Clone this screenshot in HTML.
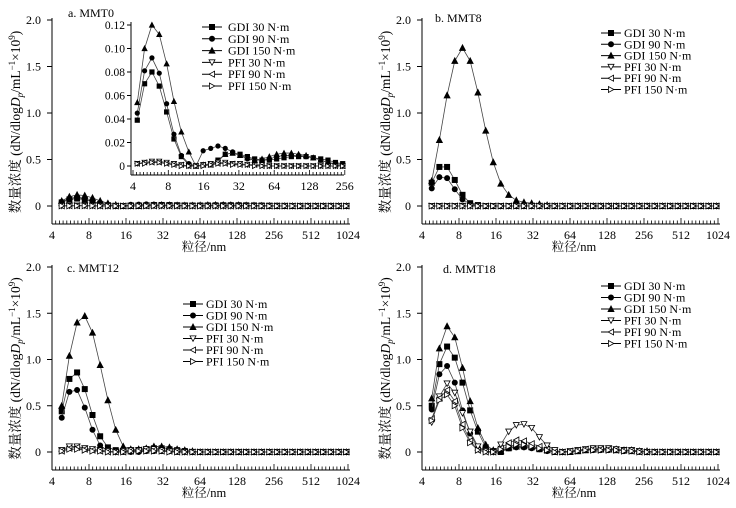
<!DOCTYPE html>
<html><head><meta charset="utf-8">
<style>
html,body{margin:0;padding:0;background:#fff;}
svg{display:block;font-family:"Liberation Serif","Noto Serif CJK SC",serif;}
</style></head>
<body>
<svg id="chart" width="736" height="508" viewBox="0 0 736 508" xmlns="http://www.w3.org/2000/svg"></svg>
<script>
const diameters=[4.8,5.54,6.4,7.39,8.54,9.86,11.4,13.2,15.2,17.5,20.3,23.4,27.0,31.2,36.1,41.7,48.1,55.6,64.2,74.1,85.6,98.9,114,132,152,176,203,235,271,313,362,418,483,558,644,744,859,992];
const seriesNames=["GDI 30 N·m","GDI 90 N·m","GDI 150 N·m","PFI 30 N·m","PFI 90 N·m","PFI 150 N·m"];
const xTickLabels=[4,8,16,32,64,128,256,512,1024];
const yTickLabels=[0,0.5,1.0,1.5,2.0];
const insetXTickLabels=[4,8,16,32,64,128,256];
const insetYTickLabels=[0,0.02,0.04,0.06,0.08,0.10,0.12];
// Panel a (MMT0)
const aGDI30=[.039,.07,.08,.068,.046,.023,.008,.001,0,.001,.001,.005,.01,.011,.01,.008,.006,.005,.005,.006,.007,.008,.008,.008,.007,.006,.005,.003,.002,.001,0,0,0,0,0,0,0,0];
const aGDI90=[.045,.081,.092,.079,.053,.027,.009,.002,0,.013,.015,.017,.015,.012,.009,.006,.005,.005,.006,.008,.009,.009,.009,.008,.007,.005,.003,.002,.001,0,0,0,0,0,0,0,0,0];
const aGDI150=[.054,.1,.12,.112,.087,.055,.029,.012,0,.001,.001,.004,.01,.011,.009,.007,.005,.006,.008,.01,.011,.011,.01,.009,.007,.005,.003,.001,0,0,0,0,0,0,0,0,0,0];
const aPFI30=[.002,.003,.004,.004,.003,.002,.001,0,0,.001,.002,.003,.003,.002,.002,.001,.001,.001,0,0,0,0,0,0,0,0,0,0,0,0,0,0,0,0,0,0,0,0];
const aPFI90=[.002,.003,.003,.003,.002,.001,.001,0,0,.001,.001,.002,.002,.002,.001,.001,.001,0,0,0,0,0,0,0,0,0,0,0,0,0,0,0,0,0,0,0,0,0];
const aPFI150=[.002,.002,.003,.003,.002,.001,0,0,0,0,.001,.002,.002,.001,.001,.001,0,0,0,0,0,0,0,0,0,0,0,0,0,0,0,0,0,0,0,0,0,0];
// Panel b (MMT8)
const bGDI30=[.25,.42,.42,.28,.12,.03,.01,0,0,0,0,0,0,0,0,0,0,0,0,0,0,0,0,0,0,0,0,0,0,0,0,0,0,0,0,0,0,0];
const bGDI90=[.19,.31,.30,.18,.07,.02,0,0,0,0,0,0,0,0,0,0,0,0,0,0,0,0,0,0,0,0,0,0,0,0,0,0,0,0,0,0,0,0];
const bGDI150=[.27,.71,1.19,1.56,1.70,1.56,1.22,.81,.47,.24,.12,.06,.04,.03,.02,.01,0,0,0,0,0,0,0,0,0,0,0,0,0,0,0,0,0,0,0,0,0,0];
const bPFI30=[0,0,0,0,0,0,0,0,0,0,0,0,0,0,0,0,0,0,0,0,0,0,0,0,0,0,0,0,0,0,0,0,0,0,0,0,0,0];
const bPFI90=[0,0,0,0,0,0,0,0,0,0,0,0,0,0,0,0,0,0,0,0,0,0,0,0,0,0,0,0,0,0,0,0,0,0,0,0,0,0];
const bPFI150=[0,0,0,0,0,0,0,0,0,0,0,0,0,0,0,0,0,0,0,0,0,0,0,0,0,0,0,0,0,0,0,0,0,0,0,0,0,0];
// Panel c (MMT12)
const cGDI30=[.44,.79,.86,.68,.40,.17,.05,.02,.01,.01,.02,.03,.04,.04,.03,.02,.01,0,0,0,0,0,0,0,0,0,0,0,0,0,0,0,0,0,0,0,0,0];
const cGDI90=[.37,.65,.67,.48,.24,.07,.01,0,0,0,0,.01,.01,.01,.01,0,0,0,0,0,0,0,0,0,0,0,0,0,0,0,0,0,0,0,0,0,0,0];
const cGDI150=[.50,1.04,1.40,1.47,1.29,.94,.56,.24,.06,.03,.03,.04,.06,.06,.05,.03,.02,.01,0,0,0,0,0,0,0,0,0,0,0,0,0,0,0,0,0,0,0,0];
const cPFI30=[.02,.06,.06,.04,.03,.02,.01,0,.01,.02,.02,.03,.03,.02,.01,.01,0,0,0,0,0,0,0,0,0,0,0,0,0,0,0,0,0,0,0,0,0,0];
const cPFI90=[.01,.04,.05,.03,.02,.01,0,0,0,.01,.02,.02,.02,.01,.01,0,0,0,0,0,0,0,0,0,0,0,0,0,0,0,0,0,0,0,0,0,0,0];
const cPFI150=[.01,.03,.03,.02,.01,.01,0,0,0,.01,.01,.01,.01,.01,0,0,0,0,0,0,0,0,0,0,0,0,0,0,0,0,0,0,0,0,0,0,0,0];
// Panel d (MMT18)
const dGDI30=[.50,.95,1.14,1.02,.75,.45,.22,.05,.01,0,.04,.06,.06,.05,.03,.02,0,0,0,.01,.02,.03,.03,.03,.02,.02,.01,.01,0,0,0,0,0,0,0,0,0,0];
const dGDI90=[.46,.84,.93,.75,.45,.20,.04,.01,0,0,.04,.05,.05,.04,.03,.01,0,0,0,.01,.02,.02,.02,.02,.02,.01,.01,0,0,0,0,0,0,0,0,0,0,0];
const dGDI150=[.58,1.12,1.36,1.24,.91,.55,.26,.08,.02,.01,.05,.06,.07,.06,.04,.02,.01,0,0,.01,.02,.03,.03,.03,.03,.02,.02,.01,.01,0,0,0,0,0,0,0,0,0];
const dPFI30=[.32,.60,.74,.64,.42,.22,.06,.01,0,.08,.22,.29,.30,.26,.16,.07,.02,0,.01,.02,.03,.04,.04,.04,.03,.02,.02,.01,0,0,0,0,0,0,0,0,0,0];
const dPFI90=[.36,.58,.67,.55,.30,.12,.02,0,0,.04,.10,.13,.12,.09,.06,.03,0,0,.01,.02,.03,.03,.03,.03,.02,.02,.01,0,0,0,0,0,0,0,0,0,0,0];
const dPFI150=[.34,.56,.62,.50,.26,.10,.02,0,0,.03,.06,.08,.08,.06,.04,.02,0,0,0,.01,.02,.02,.02,.02,.02,.01,.01,0,0,0,0,0,0,0,0,0,0,0];

const NS="http://www.w3.org/2000/svg";
const svg=document.getElementById('chart');
function el(tag,attrs,parent){const e=document.createElementNS(NS,tag);for(const k in attrs)e.setAttribute(k,attrs[k]);(parent||svg).appendChild(e);return e;}
const markerKinds=["square","circle","triangle","tri-down","tri-left","tri-right"];
function marker(g,kind,x,y,s){
  let e;const fillC=(kind==="square"||kind==="circle"||kind==="triangle")?"#000":"#fff";
  const st={fill:fillC,stroke:"#000","stroke-width":0.8};
  if(kind==="square"){e=el('rect',Object.assign({x:x-s,y:y-s,width:2*s,height:2*s},st),g);}
  else if(kind==="circle"){e=el('circle',Object.assign({cx:x,cy:y,r:s},st),g);}
  else{let p;
    if(kind==="triangle")p=[[x,y-s*1.2],[x-s*1.15,y+s],[x+s*1.15,y+s]];
    else if(kind==="tri-down")p=[[x,y+s*1.1],[x-s*1.15,y-s],[x+s*1.15,y-s]];
    else if(kind==="tri-left")p=[[x-s*1.1,y],[x+s,y-s*1.15],[x+s,y+s*1.15]];
    else p=[[x+s*1.1,y],[x-s,y-s*1.15],[x-s,y+s*1.15]];
    e=el('polygon',Object.assign({points:p.map(q=>q.join(',')).join(' ')},st),g);}
  
  
  return e;
}
function drawSeries(g,xf,yf,vals,kind,name,s){
  const sg=el('g',{},g);
  
  
  const pts=vals.map((v,i)=>[xf(diameters[i]),yf(v)]).filter(p=>isFinite(p[0]));
  const pl=el('polyline',{points:pts.map(p=>p.join(',')).join(' '),fill:"none",stroke:"#444","stroke-width":0.8},sg);
  
  
  pts.forEach(p=>marker(sg,kind,p[0],p[1],s));
}
function panel(cfg){
  const g=el('g',{});
  
  
  const ax=cfg.ax,ppo=37;
  const xf=d=>ax+ppo*Math.log2(d/4);
  const yf=v=>cfg.y0-(cfg.y0-cfg.y2)*v/2;
  const ya=el('line',{x1:ax,y1:cfg.y2-2,x2:ax,y2:cfg.bot,stroke:"#000","stroke-width":1},g);
  
  yTickLabels.forEach(v=>{const y=yf(v);
    el('line',{x1:ax-5,y1:y,x2:ax,y2:y,stroke:"#000","stroke-width":1},g);
    const t=el('text',{x:ax-11,y:y+4,"text-anchor":"end","font-size":12},g);
    t.textContent=v===0?"0":v.toFixed(1);
    });
  const xa=el('line',{x1:ax,y1:cfg.bot,x2:xf(1024)+2,y2:cfg.bot,stroke:"#000","stroke-width":1},g);
  
  for(let i=0;i<=80;i++){const x=ax+i*ppo/10; if(x>xf(1024)+1)break;
    el('line',{x1:x,y1:cfg.bot,x2:x,y2:cfg.bot-(i%10===0?6:3.5),stroke:"#000","stroke-width":0.8},g);}
  xTickLabels.forEach(v=>{const t=el('text',{x:xf(v),y:cfg.bot+15,"text-anchor":"middle","font-size":12},g);
    t.textContent=v;});
  const xt=el('text',{x:ax+152,y:cfg.bot+27,"text-anchor":"middle","font-size":12.5},g);
  xt.textContent="粒径/nm";
  const cy=(cfg.y2+cfg.bot)/2, tx=ax-32;
  const yt=el('text',{x:tx,y:cy,"text-anchor":"middle","font-size":13.5,transform:`rotate(-90 ${tx} ${cy})`},g);
  yt.innerHTML='数量浓度 (dN/dlog<tspan font-style="italic">D</tspan><tspan font-size="9" dy="3" font-style="italic">p</tspan><tspan dy="-3">/mL</tspan><tspan font-size="9" dy="-5">−1</tspan><tspan dy="5">×10</tspan><tspan font-size="9" dy="-5">9</tspan><tspan dy="5">)</tspan>';
  
  const tt=el('text',{x:cfg.tx,y:cfg.ty,"font-size":12},g);
  tt.textContent=cfg.title;
  cfg.series.forEach((vals,i)=>drawSeries(g,xf,yf,vals,markerKinds[i],'series-'+seriesNames[i].replace(/[^A-Za-z0-9]+/g,'-').toLowerCase(),2.6));
  const lg=el('g',{},g);
  
  seriesNames.forEach((n,i)=>{const y=cfg.ly+i*cfg.lsp;
    const eg=el('g',{},lg);
    
    el('line',{x1:cfg.lx-10,y1:y,x2:cfg.lx+10,y2:y,stroke:"#000","stroke-width":1},eg);
    marker(eg,markerKinds[i],cfg.lx,y,2.6);
    const t=el('text',{x:cfg.lx+13,y:y+4,"font-size":12},eg);t.textContent=n;});
  return {g,xf,yf};
}
panel({name:'panel-a-mmt0',ax:52,y0:206,y2:20,bot:224,title:'a. MMT0',tx:68,ty:17,
  series:[aGDI30,aGDI90,aGDI150,aPFI30,aPFI90,aPFI150],lx:212,ly:27,lsp:11.8});
panel({name:'panel-b-mmt8',ax:422,y0:206,y2:20,bot:224,title:'b. MMT8',tx:435,ty:22,
  series:[bGDI30,bGDI90,bGDI150,bPFI30,bPFI90,bPFI150],lx:611,ly:33,lsp:11.3});
panel({name:'panel-c-mmt12',ax:52,y0:452,y2:267,bot:470,title:'c. MMT12',tx:67,ty:272,
  series:[cGDI30,cGDI90,cGDI150,cPFI30,cPFI90,cPFI150],lx:193,ly:304,lsp:11.5});
panel({name:'panel-d-mmt18',ax:422,y0:452,y2:267,bot:470,title:'d. MMT18',tx:443,ty:273,
  series:[dGDI30,dGDI90,dGDI150,dPFI30,dPFI90,dPFI150],lx:611,ly:286,lsp:11.5});
(function(){
  const g=el('g',{});
  
  
  const ix=131,bot=175,y0=166,yTop=25,ppo=35.3;
  const xf=d=>ix+2+ppo*Math.log2(d/4)-5;
  const yf=v=>y0-(y0-yTop)*v/0.12;
  el('rect',{x:ix,y:20,width:215,height:bot-20,fill:"#fff"},g);
  const ya=el('line',{x1:ix,y1:22,x2:ix,y2:bot,stroke:"#000","stroke-width":1},g);
  
  insetYTickLabels.forEach(v=>{const y=yf(v);
    el('line',{x1:ix-4,y1:y,x2:ix,y2:y,stroke:"#000","stroke-width":1},g);
    const t=el('text',{x:ix-6,y:y+4,"text-anchor":"end","font-size":11.5},g);
    t.textContent=v===0?"0":v.toFixed(2);
    });
  const xa=el('line',{x1:ix,y1:bot,x2:ix+213,y2:bot,stroke:"#000","stroke-width":1},g);
  
  for(let i=0;i<=60;i++){const x=ix+2+i*ppo/10;
    el('line',{x1:x,y1:bot,x2:x,y2:bot-(i%10===0?5:3),stroke:"#000","stroke-width":0.8},g);}
  insetXTickLabels.forEach((v,i)=>{const t=el('text',{x:ix+2+ppo*i,y:bot+15,"text-anchor":"middle","font-size":12},g);
    t.textContent=v;});
  const ser=[aGDI30,aGDI90,aGDI150,aPFI30,aPFI90,aPFI150];
  ser.forEach((vals,i)=>{
    const sub=vals.slice(0,30);
    const sg=el('g',{},g);
    
    
    const pts=sub.map((v,j)=>[xf(diameters[j]),yf(v)]).filter(p=>p[0]<=ix+212);
    el('polyline',{points:pts.map(p=>p.join(',')).join(' '),fill:"none",stroke:"#444","stroke-width":0.8},sg);
    pts.forEach(p=>marker(sg,markerKinds[i],p[0],p[1],2.2));
  });
})();
(function(){
  const lg=el('g',{});
  
  
  seriesNames.forEach((n,i)=>{const y=27+i*11.8;
    el('line',{x1:202,y1:y,x2:222,y2:y,stroke:"#000","stroke-width":1},lg);
    marker(lg,markerKinds[i],212,y,2.6);
    const t=el('text',{x:228,y:y+4,"font-size":12},lg);t.textContent=n;});
})();
</script>
</body></html>
